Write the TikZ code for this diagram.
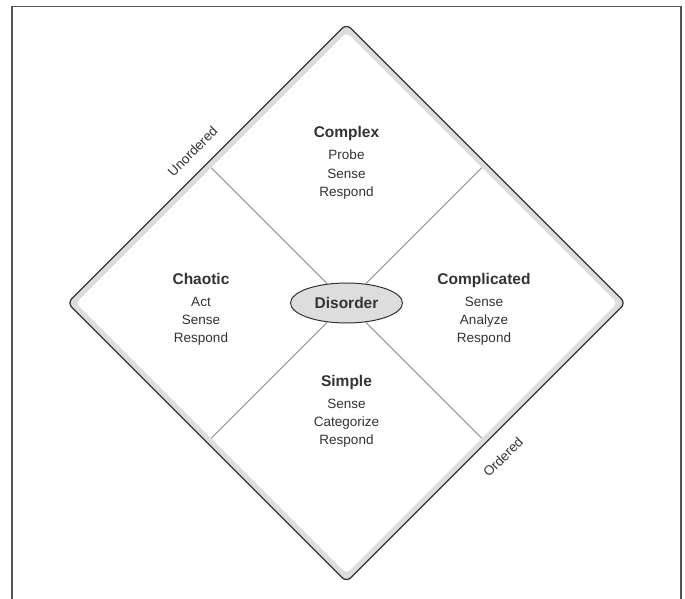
\documentclass[tikz,border=0pt]{standalone}
\usepackage{fontspec}
\setmainfont{Liberation Sans}
\usetikzlibrary{shapes.geometric}

\definecolor{inkgray}{HTML}{333333}
\definecolor{rimgray}{HTML}{DDDDDD}
\definecolor{framegray}{HTML}{555555}

\tikzset{
  quadtitle/.style = {font=\fontsize{15.5}{18}\selectfont\bfseries,
                      text=inkgray, anchor=base, inner sep=0pt},
  quadsteps/.style = {font=\fontsize{13.5}{18}\selectfont,
                      text=inkgray, align=center, anchor=base, inner sep=0pt},
  disorder/.style  = {ellipse, draw=inkgray, line width=1pt, fill=rimgray,
                      minimum width=112pt, minimum height=40pt, inner sep=0pt,
                      font=\fontsize{15.5}{18}\selectfont\bfseries, text=inkgray},
  edgelabel/.style = {font=\fontsize{13.5}{16}\selectfont, text=inkgray,
                      rotate=45, inner sep=0pt},
  divider/.style   = {draw=inkgray!85, line width=0.6pt}
}

\begin{document}
\begin{tikzpicture}[x=1pt, y=-1pt]
\useasboundingbox (0,0) rectangle (685,599);

% frame
\draw[framegray, line width=1.5pt] (12,599) -- (12,6.5) -- (681,6.5) -- (681,599);

% corners of the diamond
\coordinate (top) at (346.5,24);
\coordinate (rgt) at (625.5,303);
\coordinate (bot) at (346.5,582);
\coordinate (lft) at (67.5,303);

% rim and inner field
\fill[rimgray, rounded corners=6pt] (top) -- (rgt) -- (bot) -- (lft) -- cycle;
\fill[white, rounded corners=4pt] (346.5,32.5) -- (617,303) -- (346.5,573.5) -- (76,303) -- cycle;
\draw[inkgray, line width=1.3pt, rounded corners=6pt] (top) -- (rgt) -- (bot) -- (lft) -- cycle;

% middles of the inner edges
\coordinate (ul) at (211.25,167.75);
\coordinate (ur) at (481.75,167.75);
\coordinate (lr) at (481.75,438.25);
\coordinate (ll) at (211.25,438.25);

\node[disorder] (dis) at (346.5,303) {Disorder};

\draw[divider] (ul) -- (dis);
\draw[divider] (ur) -- (dis);
\draw[divider] (lr) -- (dis);
\draw[divider] (ll) -- (dis);

% quadrants (steps sit on the baseline of their last line)
\node[quadtitle] (complex) at (346.5,138) {Complex};
\node[quadsteps] (complexsteps) at (346.5,196) {Probe\\Sense\\Respond};

\node[quadtitle] (chaotic) at (201,284) {Chaotic};
\node[quadsteps] (chaoticsteps) at (201,342) {Act\\Sense\\Respond};

\node[quadtitle] (complicated) at (484,284) {Complicated};
\node[quadsteps] (complicatedsteps) at (484,342) {Sense\\Analyze\\Respond};

\node[quadtitle] (simple) at (346.5,386) {Simple};
\node[quadsteps] (simplesteps) at (346.5,444) {Sense\\Categorize\\Respond};

% edge labels
\node[edgelabel] (unordered) at (192.5,151.5) {Unordered};
\node[edgelabel] (ordered) at (503,457) {Ordered};
\end{tikzpicture}
\end{document}
